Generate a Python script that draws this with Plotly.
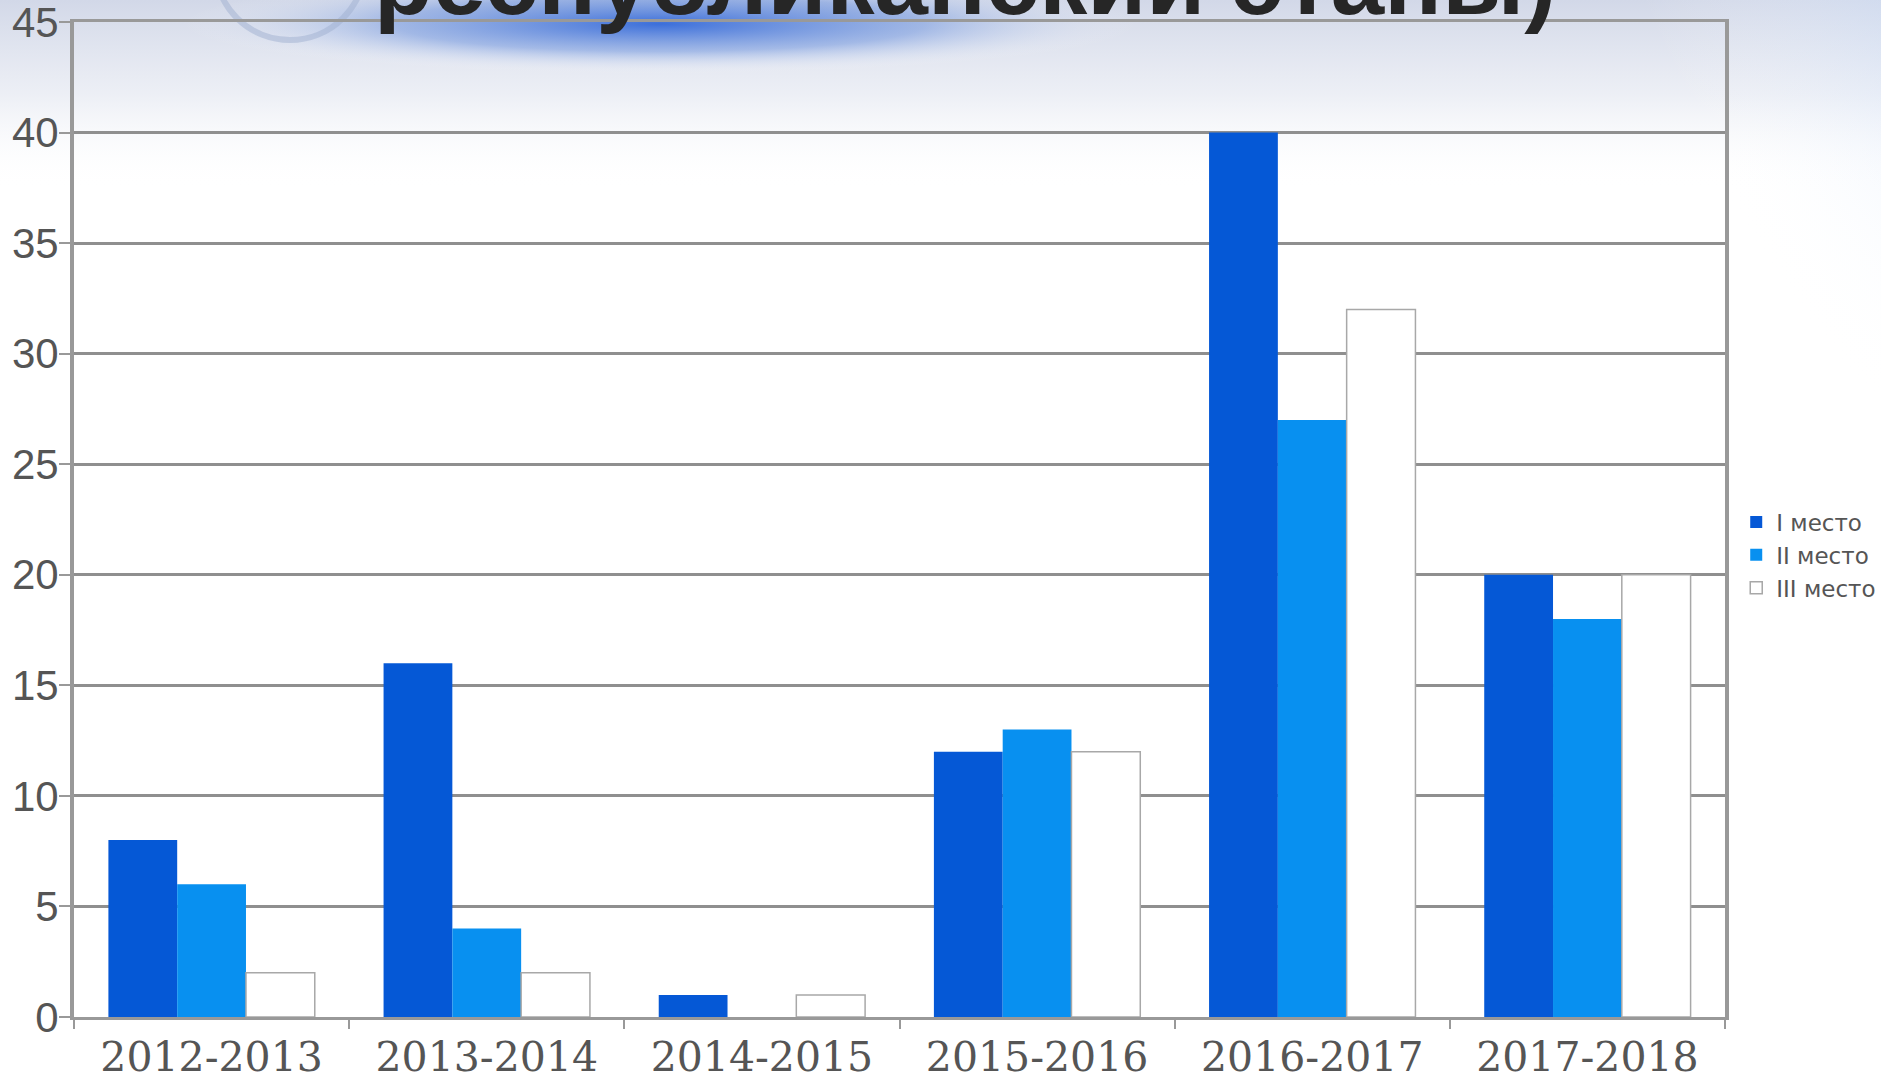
import base64
import plotly.graph_objects as go

categories = ["2012-2013", "2013-2014", "2014-2015", "2015-2016", "2016-2017", "2017-2018"]
series_names = ["I место", "II место", "III место"]
place1 = [8, 16, 1, 12, 40, 20]
place2 = [6, 4, 0, 13, 27, 18]
place3 = [2, 2, 1, 12, 32, 20]
y_ticks = [0, 5, 10, 15, 20, 25, 30, 35, 40, 45]
title_fragment = "республиканский этапы)"

W, H = 1881, 1084
L, R, T, B = 74, 156, 22, 67
PW, PH = W - L - R, H - T - B

svg = f'''<svg xmlns="http://www.w3.org/2000/svg" width="{W}" height="{H}" viewBox="0 0 {W} {H}">
<defs>
<linearGradient id="top" x1="0" y1="0" x2="0" y2="1">
<stop offset="0" stop-color="#d2d8e8" stop-opacity="1"/>
<stop offset="0.5" stop-color="#e8ebf3" stop-opacity="0.8"/>
<stop offset="1" stop-color="#ffffff" stop-opacity="0"/>
</linearGradient>
<radialGradient id="blue" cx="0.5" cy="0.5" r="0.5">
<stop offset="0" stop-color="#2a62d8" stop-opacity="0.9"/>
<stop offset="0.55" stop-color="#5a86dc" stop-opacity="0.45"/>
<stop offset="1" stop-color="#ffffff" stop-opacity="0"/>
</radialGradient>
<radialGradient id="corner" cx="1" cy="0" r="1">
<stop offset="0" stop-color="#6fa8fa" stop-opacity="1"/>
<stop offset="0.45" stop-color="#a9c8f6" stop-opacity="0.7"/>
<stop offset="1" stop-color="#ffffff" stop-opacity="0"/>
</radialGradient>
</defs>
<rect x="0" y="0" width="{W}" height="{H}" fill="#ffffff"/>
<rect x="0" y="0" width="{W}" height="190" fill="url(#top)"/>
<ellipse cx="660" cy="24" rx="480" ry="50" fill="url(#blue)"/>
<circle cx="290" cy="-35" r="75" fill="none" stroke="#9fb0d0" stroke-width="6" stroke-opacity="0.5"/>
<ellipse cx="1881" cy="0" rx="330" ry="560" fill="url(#corner)"/>
</svg>'''
bg_src = "data:image/svg+xml;base64," + base64.b64encode(svg.encode()).decode()

colors = ["#0558d6", "#0890f0", "#ffffff"]
line_colors = ["#0558d6", "#0890f0", "#a8a8a8"]
line_widths = [0, 0, 1.5]
values = [place1, place2, place3]

fig = go.Figure()
for name, vals, c, lc, lw in zip(series_names, values, colors, line_colors, line_widths):
    fig.add_trace(go.Bar(
        x=categories, y=vals, name=name,
        marker=dict(color=c, line=dict(color=lc, width=lw)),
    ))

title_cx = (381 + 1548) / 2
legend_cy = 555
fig.update_layout(
    width=W, height=H,
    margin=dict(l=L, r=R, t=T, b=B, pad=0, autoexpand=False),
    paper_bgcolor="#ffffff",
    plot_bgcolor="rgba(0,0,0,0)",
    barmode="group", bargap=0.25, bargroupgap=0,
    font=dict(family="Liberation Sans, Arial, sans-serif", color="#555555"),
    images=[dict(source=bg_src, xref="paper", yref="paper", x=-L/PW, y=1 + T/PH,
                 sizex=W/PW, sizey=H/PH, xanchor="left", yanchor="top",
                 sizing="stretch", layer="below")],
    legend=dict(x=1.0068, y=(H - B - legend_cy) / PH, xanchor="left", yanchor="middle",
                font=dict(size=23, color="#555555", family="DejaVu Sans, Verdana, sans-serif"),
                bgcolor="rgba(0,0,0,0)", traceorder="normal", itemwidth=30, tracegroupgap=0),
    annotations=[dict(text=f"<b>{title_fragment}</b>", xref="paper", yref="paper",
                      x=(title_cx - L) / PW, y=1 + (T - 36) / PH,
                      xanchor="center", yanchor="bottom", showarrow=False,
                      font=dict(size=96, color="#262626", family="Liberation Sans Narrow, Liberation Sans, Arial"))],
)
fig.update_xaxes(
    type="category", tickson="boundaries", ticks="outside", ticklen=9, tickwidth=2,
    tickcolor="#999999", showline=True, linecolor="#999999", linewidth=3,
    showgrid=False, mirror=True, automargin=False, ticklabelstandoff=2,
    tickfont=dict(family="DejaVu Serif, Liberation Serif, serif", size=41, color="#555555"),
)
fig.update_yaxes(
    range=[0, 45], tickvals=y_ticks, ticks="outside", ticklen=11, tickwidth=2,
    tickcolor="#999999", showline=True, linecolor="#999999", linewidth=4, mirror=True,
    showgrid=True, gridcolor="#8f8f8f", gridwidth=3, zeroline=False, automargin=False,
    ticklabeloverflow="allow", ticklabelstandoff=-8,
    tickfont=dict(size=42, color="#555555"),
)
fig.write_html("out.html", config={"displayModeBar": False},
               post_script="document.body.style.margin='0';document.body.style.overflow='hidden';")
